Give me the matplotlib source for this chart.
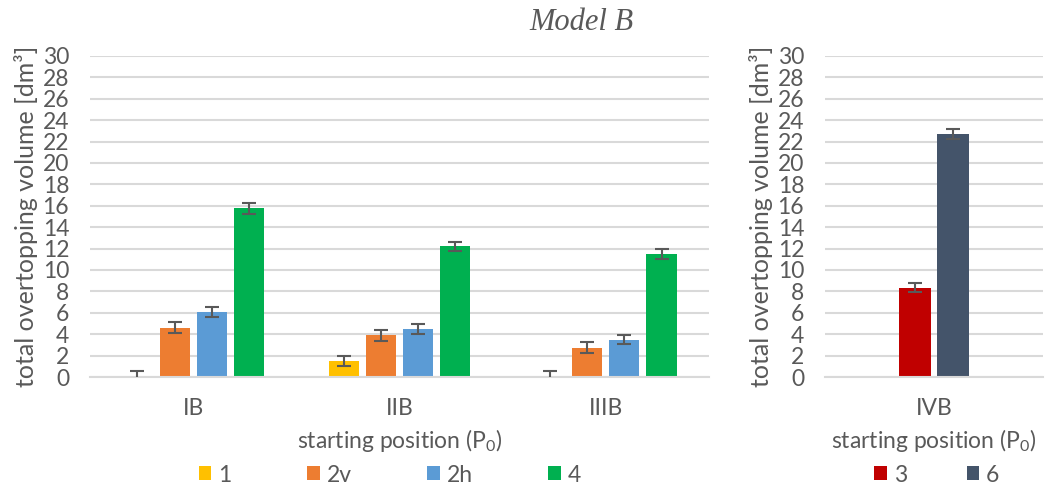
import matplotlib
matplotlib.use("Agg")
import matplotlib.pyplot as plt
import numpy as np

# ---- data ----
left_categories = ["IB", "IIB", "IIIB"]
left_series = ["1", "2v", "2h", "4"]
val_1 = [0.0, 1.5, 0.0]
val_2v = [4.6, 3.9, 2.75]
val_2h = [6.1, 4.5, 3.5]
val_4 = [15.75, 12.2, 11.5]
err_1 = [0.55, 0.5, 0.55]
err_2v = [0.5, 0.5, 0.5]
err_2h = [0.45, 0.45, 0.45]
err_4 = [0.5, 0.45, 0.5]

right_categories = ["IVB"]
right_series = ["3", "6"]
val_3 = [8.35]
val_6 = [22.7]
err_3 = [0.45]
err_6 = [0.45]

yticks = list(range(0, 31, 2))

# ---- style ----
TXT = "#595959"
GRID = "#d9d9d9"
plt.rcParams["font.family"] = ["Lato", "DejaVu Sans"]
plt.rcParams["mathtext.fontset"] = "custom"
plt.rcParams["mathtext.rm"] = "Lato"
plt.rcParams["mathtext.it"] = "Lato:italic"
FS = 16.5
FSY = 18

colors_left = ["#FFC000", "#ED7D31", "#5B9BD5", "#00B050"]
colors_right = ["#C00000", "#44546A"]

fig = plt.figure(figsize=(10.51, 4.86), dpi=100)
axL = fig.add_axes([90/1051, 1-377/486, (709-90)/1051, (377-56)/486])
axR = fig.add_axes([825/1051, 1-377/486, (1043-825)/1051, (377-56)/486])


def style(ax, cats):
    ax.set_ylim(0, 30)
    ax.set_yticks(yticks)
    ax.set_xlim(-0.5, len(cats)-0.5)
    ax.set_xticks(range(len(cats)))
    ax.set_xticklabels(cats)
    for s in ["top", "right", "left"]:
        ax.spines[s].set_visible(False)
    ax.spines["bottom"].set_color(GRID)
    ax.spines["bottom"].set_linewidth(1.5)
    ax.grid(axis="y", color=GRID, linewidth=1.5)
    ax.set_axisbelow(True)
    ax.tick_params(axis="both", length=0, labelsize=FS, colors=TXT)
    ax.tick_params(axis="y", pad=15)
    ax.tick_params(axis="x", pad=15)
    ax.set_ylabel("total overtopping volume [dm³]", fontsize=FSY, color=TXT, labelpad=3)
    ax.set_xlabel("starting position (P$_0$)", fontsize=FS, color=TXT, labelpad=6)


style(axL, left_categories)
style(axR, right_categories)

x = np.arange(len(left_categories))
vals = [val_1, val_2v, val_2h, val_4]
errs = [err_1, err_2v, err_2h, err_4]
off = 0.18
w = 0.146
for j, (v, e, c, lab) in enumerate(zip(vals, errs, colors_left, left_series)):
    axL.bar(x + (j-1.5)*off, v, w, color=c, label=lab, zorder=2,
            yerr=e, error_kw=dict(ecolor=TXT, elinewidth=1.5, capsize=5, capthick=1.5, zorder=3))

xr = np.arange(len(right_categories))
valsR = [val_3, val_6]
errsR = [err_3, err_6]
offR = 0.17
wR = 0.147
for j, (v, e, c, lab) in enumerate(zip(valsR, errsR, colors_right, right_series)):
    axR.bar(xr + (j-0.5)*offR, v, wR, color=c, label=lab, zorder=2,
            yerr=e, error_kw=dict(ecolor=TXT, elinewidth=1.5, capsize=5, capthick=1.5, zorder=3))

legL = axL.legend(loc="center", bbox_to_anchor=(390/1051, 1-475/486), bbox_transform=fig.transFigure,
                  ncol=4, frameon=False, fontsize=FS, handlelength=0.55, handleheight=0.55,
                  handletextpad=0.3, columnspacing=3.3, borderpad=0)
legR = axR.legend(loc="center", bbox_to_anchor=(937/1051, 1-475/486), bbox_transform=fig.transFigure,
                  ncol=2, frameon=False, fontsize=FS, handlelength=0.55, handleheight=0.55,
                  handletextpad=0.3, columnspacing=2.6, borderpad=0)
for leg in (legL, legR):
    for t in leg.get_texts():
        t.set_color(TXT)

fig.text(581/1051, 1-22/486, "Model B", fontsize=22, style="italic", family="Liberation Serif",
         color=TXT, ha="center", va="center")

fig.savefig("out.png", dpi=100)
